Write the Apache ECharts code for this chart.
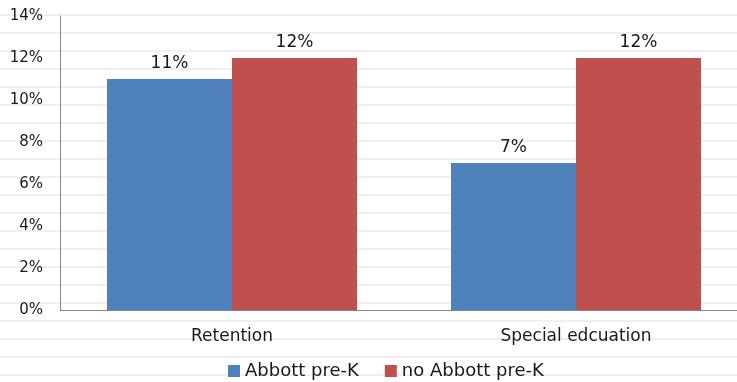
<!DOCTYPE html>
<html>
<head>
<meta charset="utf-8">
<script src="https://cdn.jsdelivr.net/npm/echarts@6/dist/echarts.min.js"></script>
<style>
  html, body { margin: 0; padding: 0; background: #ffffff; overflow: hidden; }
  /* plot area runs slightly past the right edge of the page */
  #chart { width: 748px; height: 382px; }
</style>
</head>
<body>
<div id="chart"></div>
<script>
// Outcome categories and rates (percent)
const categories = ['Retention', 'Special edcuation'];
const abbottPreK = [11, 7];
const noAbbottPreK = [12, 12];
const seriesNames = ['Abbott pre-K', 'no Abbott pre-K'];
const yTicks = [0, 2, 4, 6, 8, 10, 12, 14];

const chart = echarts.init(document.getElementById('chart'), null, { renderer: 'canvas' });

// Faint ruled lines across the page background
const ruled = [];
for (let i = 0; i < 21; i++) {
  const y = 15 + i * 18;
  ruled.push({
    type: 'line',
    shape: { x1: 0, y1: y, x2: 748, y2: y },
    style: { stroke: '#f0f0f0', lineWidth: 2 },
    z: -10, silent: true
  });
}

const font = '"DejaVu Sans", "Noto Sans", sans-serif';

chart.setOption({
  animation: false,
  backgroundColor: '#ffffff',
  graphic: ruled,
  grid: { left: 60, top: 16, right: 0, bottom: 72, containLabel: false },
  xAxis: {
    type: 'category',
    data: categories,
    axisLine: { show: true, lineStyle: { color: '#868686', width: 1 } },
    axisTick: { show: false },
    axisLabel: { color: '#1a1a1a', fontSize: 17, fontFamily: font, margin: 18 },
    splitLine: { show: false }
  },
  yAxis: {
    type: 'value',
    min: yTicks[0],
    max: yTicks[yTicks.length - 1],
    interval: 2,
    axisLine: { show: true, lineStyle: { color: '#868686', width: 1 } },
    axisTick: { show: false },
    axisLabel: { color: '#1a1a1a', fontSize: 15, fontFamily: font, margin: 17, formatter: '{value}%' },
    splitLine: { show: false }
  },
  legend: {
    top: 362,
    left: 228,
    itemWidth: 12,
    itemHeight: 12,
    itemGap: 26,
    icon: 'rect',
    padding: 0,
    textStyle: { color: '#1a1a1a', fontSize: 18, fontFamily: font },
    data: seriesNames
  },
  series: [
    {
      name: seriesNames[0],
      type: 'bar',
      data: abbottPreK,
      barWidth: 125,
      barGap: '0%',
      itemStyle: { color: '#4F81BD' },
      label: { show: true, position: 'top', distance: 7, formatter: '{c}%', color: '#1a1a1a', fontSize: 17, fontFamily: font }
    },
    {
      name: seriesNames[1],
      type: 'bar',
      data: noAbbottPreK,
      barWidth: 125,
      barGap: '0%',
      itemStyle: { color: '#C0504D' },
      label: { show: true, position: 'top', distance: 7, formatter: '{c}%', color: '#1a1a1a', fontSize: 17, fontFamily: font }
    }
  ]
});
</script>
</body>
</html>
